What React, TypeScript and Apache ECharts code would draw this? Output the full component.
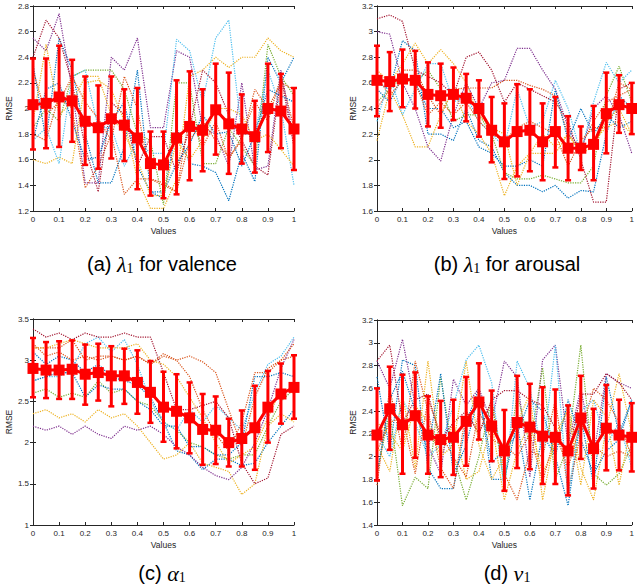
import React, { useEffect, useRef } from "react";
import * as echarts from "echarts";

const X_VALUES = [0, 0.05, 0.1, 0.15, 0.2, 0.25, 0.3, 0.35, 0.4, 0.45, 0.5, 0.55, 0.6, 0.65, 0.7, 0.75, 0.8, 0.85, 0.9, 0.95, 1];
const X_TICKS = ["0", "0.1", "0.2", "0.3", "0.4", "0.5", "0.6", "0.7", "0.8", "0.9", "1"];
const LINE_COLORS = ["#0072BD", "#D95319", "#EDB120", "#7E2F8E", "#77AC30", "#4DBEEE", "#A2142F"];

// Panel (a): lambda1 for valence
const runsA = [
  [2.35, 1.75, 2.55, 2.3, 1.8, 1.42, 1.42, 1.7, 2.3, 1.35, 1.3, 1.85, 1.57, 1.55, 1.5, 1.28, 1.65, 1.43, 2.4, 2.2, 2.4],
  [1.8, 1.75, 2.1, 2.0, 1.38, 1.55, 1.8, 1.33, 1.45, 1.45, 1.4, 1.35, 1.95, 1.7, 1.9, 1.6, 1.78, 2.05, 1.9, 2.25, 1.85],
  [1.6, 1.57, 1.62, 1.57, 2.2, 2.22, 2.15, 1.9, 1.45, 1.22, 1.22, 1.45, 2.25, 2.3, 2.4, 2.32, 2.4, 2.4, 2.55, 2.45, 2.4],
  [2.55, 2.45, 2.74, 2.15, 1.42, 1.42, 2.4, 2.3, 2.55, 1.85, 1.85, 2.45, 2.4, 1.85, 1.8, 1.55, 2.2, 1.52, 1.55, 2.3, 1.75],
  [1.85, 2.0, 1.9, 2.25, 2.3, 2.3, 2.3, 2.15, 1.8, 1.75, 1.25, 2.2, 2.2, 1.57, 1.57, 1.85, 1.7, 1.55, 2.5, 2.25, 2.1],
  [1.75, 1.85, 1.57, 2.25, 2.3, 1.85, 1.85, 1.55, 1.75, 1.65, 1.65, 2.54, 2.45, 2.05, 2.55, 2.69, 1.8, 1.8, 2.3, 2.0, 1.4],
  [2.4, 2.69, 2.55, 2.2, 1.7, 1.35, 2.05, 1.95, 1.55, 1.78, 1.78, 1.5, 1.85, 2.3, 2.2, 1.95, 1.75, 1.55, 1.48, 2.25, 1.7],
  [1.75, 2.15, 2.2, 1.9, 1.6, 1.62, 1.9, 2.05, 1.55, 1.35, 1.35, 1.57, 1.72, 1.95, 1.8, 1.82, 1.55, 1.8, 2.15, 2.1, 2.05],
  [2.3, 1.95, 2.05, 2.25, 2.05, 1.92, 1.75, 2.25, 2.0, 1.45, 1.42, 1.35, 1.75, 1.9, 1.75, 1.62, 1.75, 2.15, 2.0, 2.2, 2.15],
  [1.9, 2.5, 1.95, 2.05, 2.25, 2.25, 1.95, 1.8, 1.6, 1.32, 1.32, 1.75, 1.6, 1.75, 2.0, 2.0, 1.95, 1.75, 1.8, 1.68, 1.55],
];
const meanA = [2.03, 2.04, 2.09, 2.06, 1.9, 1.85, 1.92, 1.87, 1.77, 1.57, 1.56, 1.77, 1.86, 1.83, 1.99, 1.88, 1.84, 1.78, 2.0, 1.98, 1.84];
const lowA = [1.68, 1.69, 1.7, 1.74, 1.56, 1.53, 1.61, 1.59, 1.37, 1.32, 1.3, 1.33, 1.44, 1.51, 1.64, 1.49, 1.57, 1.5, 1.66, 1.69, 1.52];
const highA = [2.39, 2.39, 2.49, 2.38, 2.25, 2.18, 2.25, 2.15, 2.16, 1.82, 1.82, 2.22, 2.29, 2.15, 2.35, 2.28, 2.11, 2.06, 2.35, 2.27, 2.16];

// Panel (b): lambda1 for arousal
const runsB = [
  [2.6, 2.55, 2.93, 2.85, 2.2, 2.2, 2.15, 2.4, 2.15, 2.1, 1.9, 1.8, 1.8, 1.75, 1.8, 1.7, 1.76, 1.75, 2.2, 2.5, 2.4],
  [2.4, 2.55, 2.7, 2.7, 2.5, 2.35, 2.55, 2.56, 2.56, 2.56, 2.62, 2.62, 2.58, 2.55, 2.5, 2.2, 2.1, 2.3, 2.45, 2.5, 2.55],
  [2.15, 2.55, 2.35, 2.1, 2.1, 2.35, 2.55, 2.3, 2.2, 2.05, 1.72, 1.95, 2.05, 2.2, 2.1, 2.2, 2.05, 2.15, 2.25, 2.3, 2.2],
  [3.0, 2.98, 2.6, 2.4, 2.1, 1.99, 2.35, 2.6, 2.4, 2.6, 2.62, 2.87, 2.87, 2.7, 2.55, 2.25, 2.05, 2.4, 2.5, 2.35, 2.05],
  [2.45, 2.55, 2.65, 2.6, 2.7, 2.55, 2.3, 2.35, 2.35, 2.2, 1.9, 1.85, 1.85, 1.88, 1.85, 1.82, 1.82, 1.95, 2.5, 2.73, 2.45],
  [2.3, 2.65, 2.35, 2.55, 2.75, 2.75, 2.45, 2.5, 2.3, 2.2, 2.1, 2.55, 2.25, 2.3, 2.62, 2.4, 2.05, 2.45, 2.76, 2.6, 2.7],
  [3.1, 3.13, 3.08, 2.7, 2.65, 2.6, 2.5, 2.8, 2.84, 2.7, 2.45, 2.6, 2.55, 2.5, 2.45, 2.3, 2.0, 1.67, 1.67, 2.55, 2.6],
  [2.55, 2.45, 2.65, 2.6, 2.4, 2.4, 2.25, 2.3, 2.1, 2.05, 1.95, 1.95, 2.0, 1.95, 2.55, 2.15, 2.4, 2.2, 2.35, 2.25, 2.3],
  [2.65, 2.5, 2.62, 2.6, 2.35, 2.45, 2.35, 2.45, 2.3, 2.2, 2.15, 2.25, 2.3, 2.25, 2.2, 1.95, 2.15, 2.25, 2.25, 2.6, 2.55],
  [2.7, 2.6, 2.75, 2.91, 2.75, 2.86, 2.75, 2.6, 2.35, 2.25, 2.2, 1.8, 2.05, 2.05, 2.05, 2.2, 2.05, 2.1, 2.3, 2.4, 2.2],
];
const meanB = [2.62, 2.61, 2.63, 2.62, 2.51, 2.5, 2.51, 2.48, 2.4, 2.23, 2.14, 2.22, 2.23, 2.14, 2.22, 2.09, 2.09, 2.12, 2.36, 2.43, 2.4];
const lowB = [2.34, 2.38, 2.41, 2.4, 2.26, 2.25, 2.31, 2.3, 2.18, 1.98, 1.85, 1.87, 1.91, 1.84, 1.94, 1.84, 1.92, 1.84, 2.05, 2.21, 2.2];
const highB = [2.89, 2.84, 2.86, 2.85, 2.76, 2.75, 2.72, 2.67, 2.62, 2.49, 2.44, 2.59, 2.55, 2.44, 2.49, 2.34, 2.26, 2.42, 2.68, 2.66, 2.6];

// Panel (c): alpha1
const runsC = [
  [3.1, 2.95, 3.05, 3.0, 2.85, 2.95, 2.8, 2.75, 2.7, 2.55, 2.25, 1.9, 1.85, 1.67, 1.8, 1.8, 1.72, 1.75, 2.0, 2.2, 2.4],
  [3.2, 3.05, 3.1, 3.0, 3.05, 3.0, 3.05, 3.0, 3.05, 2.95, 3.05, 3.0, 2.8, 2.4, 2.1, 1.9, 2.25, 2.85, 2.85, 3.0, 3.05],
  [2.35, 2.4, 2.3, 2.35, 2.25, 2.4, 2.3, 2.35, 2.2, 2.0, 1.8, 1.85, 2.0, 1.75, 1.7, 1.65, 1.37, 1.5, 2.2, 2.35, 2.25],
  [2.2, 2.15, 2.2, 2.1, 2.2, 2.1, 2.05, 2.2, 2.15, 2.2, 2.1, 1.95, 1.85, 1.7, 1.6, 1.55, 1.7, 2.0, 2.4, 2.9, 3.25],
  [2.6, 2.65, 2.55, 2.6, 2.55, 2.75, 2.6, 2.65, 2.5, 2.45, 2.25, 2.15, 2.0, 1.95, 1.85, 1.8, 1.85, 1.85, 2.2, 2.5, 2.65],
  [2.75, 2.8, 2.8, 2.9, 3.2, 3.28, 3.1, 3.25, 2.95, 2.5, 2.25, 2.15, 2.4, 2.25, 2.45, 2.3, 2.15, 2.6, 2.95, 3.05, 3.28],
  [3.38, 3.28, 3.33, 3.25, 3.33, 3.28, 3.28, 3.33, 3.28, 3.28, 2.85, 2.4, 2.4, 2.45, 2.5, 2.3, 1.75, 1.5, 1.57, 2.1, 2.2],
  [2.75, 2.8, 2.85, 2.85, 2.55, 2.7, 2.65, 2.65, 2.5, 2.4, 2.2, 2.2, 1.95, 1.95, 1.85, 1.85, 2.0, 2.8, 2.8, 2.85, 2.8],
  [3.15, 3.15, 3.15, 3.25, 3.0, 3.05, 3.05, 3.0, 3.05, 2.95, 3.08, 3.0, 3.05, 2.98, 2.85, 2.4, 1.95, 2.55, 2.9, 3.0, 3.2],
  [3.15, 3.15, 3.2, 3.25, 3.2, 3.15, 3.15, 3.15, 3.2, 3.0, 2.95, 2.8, 2.55, 2.3, 2.0, 1.75, 1.85, 1.95, 2.3, 2.65, 2.6],
];
const meanC = [2.9, 2.88, 2.88, 2.89, 2.83, 2.85, 2.81, 2.81, 2.73, 2.61, 2.43, 2.38, 2.3, 2.16, 2.15, 2.0, 2.05, 2.18, 2.43, 2.59, 2.67];
const lowC = [2.55, 2.54, 2.53, 2.53, 2.46, 2.51, 2.44, 2.47, 2.35, 2.24, 2.01, 1.93, 1.87, 1.73, 1.74, 1.71, 1.71, 1.67, 2.0, 2.23, 2.29];
const highC = [3.27, 3.22, 3.23, 3.24, 3.19, 3.2, 3.17, 3.14, 3.12, 2.99, 2.86, 2.83, 2.73, 2.59, 2.56, 2.29, 2.39, 2.69, 2.87, 2.96, 3.06];

// Panel (d): nu1
const runsD = [
  [2.7, 2.05, 2.85, 2.8, 1.9, 1.72, 1.72, 2.3, 2.6, 1.8, 1.8, 2.3, 1.62, 2.2, 2.0, 1.57, 2.35, 1.75, 2.7, 2.2, 2.5],
  [1.75, 2.6, 2.05, 2.84, 2.4, 1.9, 1.72, 2.4, 2.2, 2.5, 1.85, 1.62, 2.05, 2.0, 2.5, 1.7, 2.2, 2.6, 2.5, 2.3, 2.0],
  [2.1, 1.87, 2.55, 1.9, 2.84, 2.0, 2.3, 1.8, 1.87, 2.3, 1.62, 2.05, 2.3, 1.85, 2.1, 2.45, 1.9, 1.62, 2.25, 2.73, 2.2],
  [2.84, 2.6, 3.03, 2.45, 2.1, 1.85, 2.68, 2.45, 2.6, 2.3, 2.84, 2.7, 1.82, 2.85, 2.98, 2.1, 2.6, 2.0, 2.73, 2.65, 2.6],
  [1.85, 2.4, 1.57, 1.82, 1.72, 2.7, 2.0, 1.62, 2.0, 2.5, 1.75, 2.55, 2.1, 2.78, 1.8, 2.1, 2.98, 1.85, 1.75, 1.85, 2.1],
  [2.2, 2.0, 2.5, 2.3, 2.0, 2.1, 2.45, 2.85, 2.98, 2.65, 1.7, 2.84, 2.6, 2.0, 2.98, 1.65, 2.4, 2.5, 2.1, 2.3, 1.9],
  [2.84, 2.98, 2.3, 2.5, 2.55, 2.15, 2.3, 2.4, 2.2, 2.5, 2.58, 2.58, 2.5, 2.45, 2.25, 2.0, 2.55, 2.55, 2.73, 2.65, 2.5],
  [1.85, 2.5, 2.75, 2.4, 2.05, 2.73, 1.85, 2.1, 2.55, 1.95, 2.05, 2.2, 2.5, 2.4, 2.0, 2.5, 2.15, 1.85, 2.05, 2.15, 2.5],
  [2.05, 2.3, 2.35, 1.85, 2.5, 2.2, 2.0, 1.82, 2.4, 2.15, 2.1, 2.0, 2.2, 1.78, 2.2, 1.9, 2.3, 2.1, 2.0, 2.05, 2.0],
  [2.3, 2.2, 2.05, 2.45, 2.3, 2.0, 2.1, 2.84, 2.1, 1.8, 2.0, 2.3, 2.55, 1.62, 2.2, 2.4, 1.75, 2.5, 2.35, 1.75, 2.3],
];
const meanD = [2.19, 2.42, 2.28, 2.36, 2.19, 2.15, 2.17, 2.31, 2.48, 2.27, 2.05, 2.3, 2.26, 2.18, 2.17, 2.05, 2.34, 2.07, 2.25, 2.19, 2.17];
const lowD = [1.79, 2.06, 1.85, 1.99, 1.85, 1.82, 1.84, 1.92, 2.15, 1.96, 1.7, 1.9, 1.89, 1.76, 1.76, 1.66, 1.98, 1.72, 1.88, 1.88, 1.87];
const highD = [2.6, 2.79, 2.72, 2.74, 2.53, 2.49, 2.5, 2.7, 2.82, 2.58, 2.41, 2.71, 2.64, 2.61, 2.59, 2.45, 2.71, 2.42, 2.63, 2.5, 2.47];

const Y_RANGES = [
  { min: 1.2, max: 2.8, interval: 0.2 },
  { min: 1.6, max: 3.2, interval: 0.2 },
  { min: 1, max: 3.5, interval: 0.5 },
  { min: 1.4, max: 3.2, interval: 0.2 },
];

const GRIDS = [
  { left: 33, top: 6, width: 261, height: 205 },
  { left: 377, top: 6, width: 259, height: 205 },
  { left: 33, top: 319, width: 261, height: 206 },
  { left: 377, top: 320, width: 259, height: 205 },
];

const AXIS_COLOR = "#262626";
const LABEL_FONT = "Liberation Sans";

function buildOption() {
  const panels = [
    { runs: runsA, mean: meanA, low: lowA, high: highA },
    { runs: runsB, mean: meanB, low: lowB, high: highB },
    { runs: runsC, mean: meanC, low: lowC, high: highC },
    { runs: runsD, mean: meanD, low: lowD, high: highD },
  ];
  const grid: any[] = [];
  const xAxis: any[] = [];
  const yAxis: any[] = [];
  const series: any[] = [];
  const axisLine = { show: true, lineStyle: { color: AXIS_COLOR, width: 1 } };
  const axisTick = { show: true, inside: true, length: 3, lineStyle: { color: AXIS_COLOR, width: 1 } };
  panels.forEach((p, i) => {
    grid.push({ ...GRIDS[i], containLabel: false });
    xAxis.push({
      type: "value", gridIndex: i, min: 0, max: 1, interval: 0.1, position: "bottom",
      axisLine, axisTick, splitLine: { show: false },
      axisLabel: { fontSize: 8, color: AXIS_COLOR, fontFamily: LABEL_FONT, margin: 4, formatter: (v: number) => X_TICKS[Math.round(v * 10)] },
      name: "Values", nameLocation: "middle", nameGap: 15,
      nameTextStyle: { fontSize: 8.5, color: AXIS_COLOR, fontFamily: LABEL_FONT },
    });
    xAxis.push({
      type: "value", gridIndex: i, min: 0, max: 1, interval: 0.1, position: "top",
      axisLine, axisTick, splitLine: { show: false }, axisLabel: { show: false },
    });
    const yr = Y_RANGES[i];
    yAxis.push({
      type: "value", gridIndex: i, min: yr.min, max: yr.max, interval: yr.interval, position: "left",
      axisLine, axisTick, splitLine: { show: false },
      axisLabel: { fontSize: 8, color: AXIS_COLOR, fontFamily: LABEL_FONT, margin: 4 },
      name: "RMSE", nameLocation: "middle", nameGap: 17, nameRotate: 90,
      nameTextStyle: { fontSize: 8.5, color: AXIS_COLOR, fontFamily: LABEL_FONT },
    });
    yAxis.push({
      type: "value", gridIndex: i, min: yr.min, max: yr.max, interval: yr.interval, position: "right",
      axisLine, axisTick, splitLine: { show: false }, axisLabel: { show: false },
    });
    const xi = i * 2;
    const yi = i * 2;
    p.runs.forEach((run, k) => {
      series.push({
        type: "line", xAxisIndex: xi, yAxisIndex: yi, symbol: "none", silent: true,
        data: run.map((v, j) => [X_VALUES[j], v]),
        lineStyle: { type: "dotted", width: 1.2, color: LINE_COLORS[k % LINE_COLORS.length] },
        z: 2,
      });
    });
    series.push({
      type: "custom", xAxisIndex: xi, yAxisIndex: yi, z: 3, silent: true,
      data: p.mean.map((_, j) => [X_VALUES[j], p.low[j], p.high[j]]),
      encode: { x: 0, y: [1, 2] },
      renderItem: (params: any, api: any) => {
        const x = api.value(0);
        const a = api.coord([x, api.value(1)]);
        const b = api.coord([x, api.value(2)]);
        const w = 3;
        const style = { stroke: "#FF0000", lineWidth: 2.5 };
        return {
          type: "group",
          children: [
            { type: "line", shape: { x1: a[0], y1: a[1], x2: b[0], y2: b[1] }, style: { stroke: "#FF0000", lineWidth: 3 } },
            { type: "line", shape: { x1: a[0] - w, y1: a[1], x2: a[0] + w, y2: a[1] }, style },
            { type: "line", shape: { x1: b[0] - w, y1: b[1], x2: b[0] + w, y2: b[1] }, style },
          ],
        };
      },
    });
    series.push({
      type: "line", xAxisIndex: xi, yAxisIndex: yi, z: 4, silent: true,
      data: p.mean.map((v, j) => [X_VALUES[j], v]),
      symbol: "rect", symbolSize: 11,
      itemStyle: { color: "#FF0000" },
      lineStyle: { color: "#FF0000", width: 3 },
    });
  });

  const capRich = {
    a: { fontFamily: "Liberation Sans", fontSize: 20, fill: "#000" },
    m: { fontFamily: "Liberation Serif", fontStyle: "italic", fontSize: 22, fill: "#000" },
    s: { fontFamily: "Liberation Serif", fontSize: 14, fill: "#000", padding: [9, 0, 0, 0] },
  };
  const caption = (text: string, x: number, y: number) => ({
    type: "text", x, y, silent: true,
    style: { text, rich: capRich, align: "center", verticalAlign: "middle", textAlign: "center", textVerticalAlign: "middle" },
  });

  return {
    animation: false,
    grid, xAxis, yAxis, series,
    graphic: [
      caption("{a|(a) }{m|λ}{s|1}{a| for valence}", 162, 264),
      caption("{a|(b) }{m|λ}{s|1}{a| for arousal}", 507, 264),
      caption("{a|(c) }{m|α}{s|1}", 162, 573),
      caption("{a|(d) }{m|ν}{s|1}", 507, 573),
    ],
  };
}

export default function App() {
  const ref = useRef<HTMLDivElement>(null);
  useEffect(() => {
    if (!ref.current) return;
    const chart = echarts.init(ref.current, undefined, { renderer: "svg" });
    chart.setOption(buildOption() as any);
    return () => chart.dispose();
  }, []);
  return (
    <div
      ref={ref}
      style={{ position: "absolute", left: 0, top: 0, width: 637, height: 588, background: "#fff" }}
    />
  );
}
